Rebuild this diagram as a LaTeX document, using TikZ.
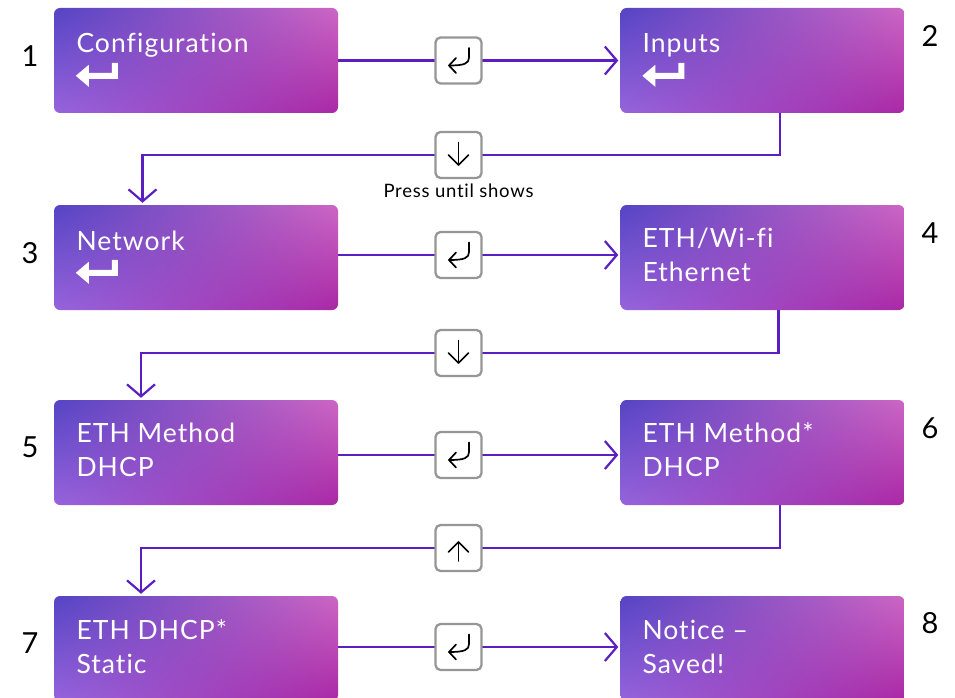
\documentclass[tikz,border=0pt]{standalone}
\usepackage{fontspec}
\setmainfont{Lato}[LetterSpace=4,Ligatures=CommonOff]
\usetikzlibrary{arrows.meta,calc,backgrounds}
\definecolor{linepurple}{RGB}{90,30,195}
\definecolor{keygray}{RGB}{150,150,150}
\pgfdeclarefunctionalshading{boxgrad}{\pgfpointorigin}{\pgfpoint{100bp}{100bp}}{}{
 25 sub 50 div dup 0 lt {pop 0} if dup 1 gt {pop 1} if
 exch 25 sub 50 div dup 0 lt {pop 0} if dup 1 gt {pop 1} if
 2 copy mul
 dup 0.388 mul 2 index 0.079 mul add 3 index -0.255 mul add 0.588 add
 1 index 0.368 mul 3 index -0.235 mul add 4 index -0.125 mul add 0.392 add
 2 index 0.216 mul 4 index -0.216 mul add 5 index -0.094 mul add 0.863 add
 6 3 roll pop pop pop
}
\newcommand{\twolines}[2]{\begin{tabular}[t]{@{}l@{}}#1\\#2\end{tabular}}
\tikzset{
 flowbox/.style={rounded corners=6pt, shading=boxgrad, minimum width=284pt, minimum height=105pt, inner sep=0pt, draw=none},
 boxtxt/.style={text=white, font=\fontsize{26.5}{34}\selectfont, anchor=base west, inner sep=0pt},
 num/.style={font=\fontsize{29}{32}\selectfont, text=black, inner sep=0pt},
 conn/.style={draw=linepurple, line width=2.2pt, -{Straight Barb[length=12pt,width=28pt]}, shorten >=2pt},
 keybox/.style={draw=keygray, line width=2.3pt, fill=white, rounded corners=5pt, minimum size=46pt, inner sep=0pt},
 glyph/.style={line width=1.7pt, draw=black, line cap=round, line join=round},
 enterglyph/.pic={\fill[white] (22,68) -- (35,57) -- (35,65) -- (58,65) -- (58,55) -- (64,55) -- (64,71) -- (35,71) -- (35,79) -- cycle;},
 retkey/.pic={\draw[glyph] (10.5,-12.5) -- (10.5,-3) .. controls (10.5,3) and (6,5) .. (-9.5,5);
              \draw[glyph] (-2.5,-2.5) -- (-9.5,5) -- (-2.5,12.5);},
 downkey/.pic={\draw[glyph] (0,-12.5) -- (0,10); \draw[glyph] (-10,0) -- (0,10) -- (10,0);},
 upkey/.pic={\draw[glyph] (0,13) -- (0,-6); \draw[glyph] (-10,4) -- (0,-6) -- (10,4);}
}
\begin{document}
\begin{tikzpicture}[x=1pt,y=-1pt]
\useasboundingbox (0,0) rectangle (955,698);
% boxes
\node[flowbox] (n1) at (196,60.5) {};
\node[flowbox] (n2) at (762.5,60.5) {};
\node[flowbox] (n3) at (196,257.5) {};
\node[flowbox] (n4) at (762.5,257.5) {};
\node[flowbox] (n5) at (196,452.5) {};
\node[flowbox] (n6) at (762.5,452.5) {};
\node[flowbox] (n7) at (196,648.5) {};
\node[flowbox] (n8) at (762.5,648.5) {};
% texts
\node[boxtxt] (t1) at ($(n1.north west)+(22.5,45)$) {Configuration};
\node[boxtxt] (t2) at ($(n2.north west)+(22,45)$) {Inputs};
\node[boxtxt] (t3) at ($(n3.north west)+(22.5,46)$) {Network};
\node[boxtxt] (t4) at ($(n4.north west)+(22,43)$) {\twolines{ETH/Wi-fi}{Ethernet}};
\node[boxtxt] (t5) at ($(n5.north west)+(22.5,43)$) {\twolines{ETH Method}{DHCP}};
\node[boxtxt] (t6) at ($(n6.north west)+(22,43)$) {\twolines{ETH Method*}{DHCP}};
\node[boxtxt] (t7) at ($(n7.north west)+(22.5,44)$) {\twolines{ETH DHCP*}{Static}};
\node[boxtxt] (t8) at ($(n8.north west)+(22,44)$) {\twolines{Notice –}{Saved!}};
\pic at (n1.north west) {enterglyph};
\pic at (n2.north west) {enterglyph};
\pic at (n3.north west) {enterglyph};
% numbers
\node[num] (l1) at (30,56) {1};
\node[num] (l2) at (930,36) {2};
\node[num] (l3) at (30,253) {3};
\node[num] (l4) at (930,233) {4};
\node[num] (l5) at (30,447) {5};
\node[num] (l6) at (930,428) {6};
\node[num] (l7) at (30,643) {7};
\node[num] (l8) at (930,623) {8};
% keys
\node[keybox] (k1) at (458.5,60.5) {};
\node[keybox] (kd1) at (458.5,155) {};
\node[keybox] (k2) at (458.5,255) {};
\node[keybox] (kd2) at (458.5,353) {};
\node[keybox] (k3) at (458.5,455) {};
\node[keybox] (kd3) at (458.5,548) {};
\node[keybox] (k4) at (458.5,647) {};
\pic at (k1.center) {retkey};
\pic at (k2.center) {retkey};
\pic at (k3.center) {retkey};
\pic at (k4.center) {retkey};
\pic at (kd1.center) {downkey};
\pic at (kd2.center) {downkey};
\pic at (kd3.center) {upkey};
\node[font=\fontsize{18.5}{22}\selectfont, anchor=base, inner sep=0pt] (press) at (458.5,197) {Press until shows};
% connectors
\begin{scope}[on background layer]
\draw[conn] (n1.east |- k1) -- (n2.west |- k1);
\draw[conn] (n3.east |- k2) -- (n4.west |- k2);
\draw[conn] (n5.east |- k3) -- (n6.west |- k3);
\draw[conn] (n7.east |- k4) -- (n8.west |- k4);
\draw[conn] ($(n2.south)+(17.5,0)$) |- (kd1.center) -| ($(n3.north)+(-53.5,0)$);
\draw[conn] ($(n4.south)+(16,0)$) |- (kd2.center) -| ($(n5.north)+(-55,0)$);
\draw[conn] ($(n6.south)+(17.5,0)$) |- (kd3.center) -| ($(n7.north)+(-55,0)$);
\end{scope}
\end{tikzpicture}
\end{document}
